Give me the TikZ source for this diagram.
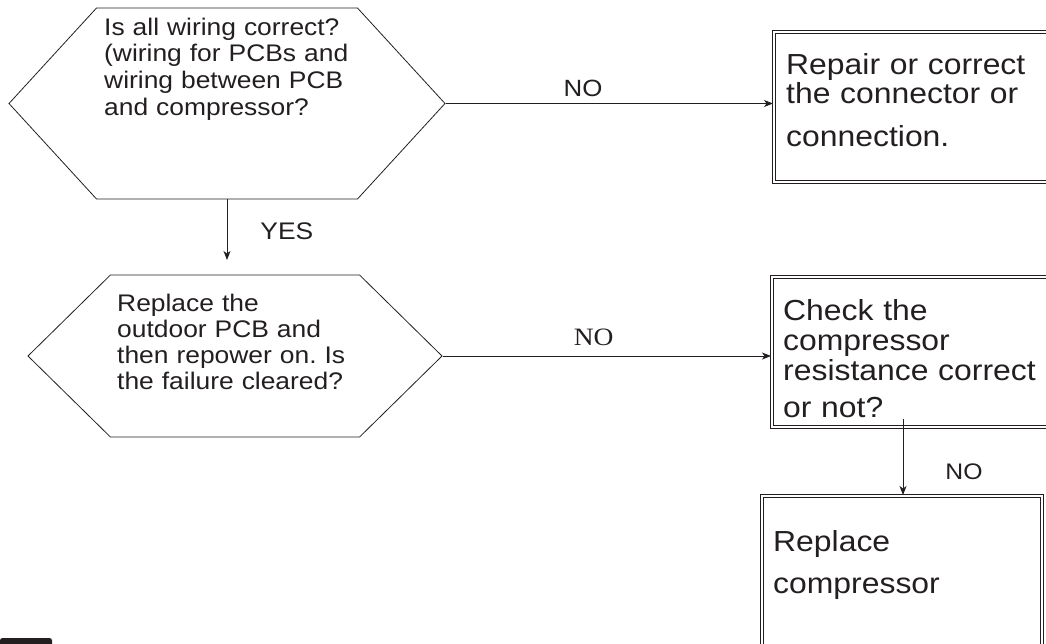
\documentclass[tikz,border=0pt]{standalone}
\usepackage{fontspec}
\setmainfont{Liberation Sans}[FakeStretch=1.1]
\newfontfamily\serifno{Liberation Serif}[FakeStretch=1.1]
\usepackage{tikz}
\usetikzlibrary{shapes.symbols, arrows.meta}
\definecolor{ink}{HTML}{231F20}
\frenchspacing

\begin{document}
\begin{tikzpicture}[
  x=1pt, y=-1pt,
  every node/.style={text=ink},
  hexq/.style={
    draw=ink, signal, signal to=west and east, inner sep=0pt,
    line width=0.8pt
  },
  qtext/.style={
    anchor=base west, inner sep=0pt, align=left, text width=320pt
  },
  outbox/.style={
    draw=ink, double, double distance=2pt, line width=1pt,
    anchor=north west, inner sep=0pt
  },
  outtext/.style={
    anchor=base west, inner sep=0pt, align=left, text width=260pt
  },
  arrow/.style={-{Stealth[length=9pt, width=7pt, inset=2.5pt]}, line width=0.9pt, draw=ink},
  arrowlabel/.style={inner sep=0pt},
]
\useasboundingbox (0,0) rectangle (1046,643);

\node[hexq, minimum width=436pt, minimum height=191pt, signal pointer angle=95] (q1) at (227,103.5) {};
\node[qtext, font=\fontsize{24}{26.7}\selectfont] (q1txt) at (104,35)
  {Is all wiring correct?\\(wiring for PCBs and\\wiring between PCB\\and compressor?};

\node[hexq, minimum width=414pt, minimum height=162pt, signal pointer angle=89] (q2) at (235,356) {};
\node[qtext, font=\fontsize{24}{26}\selectfont] (q2txt) at (117,311.7)
  {Replace the\\outdoor PCB and\\then repower on. Is\\the failure cleared?};

\node[outbox, minimum width=276pt, minimum height=150pt] (fix) at (773,31) {};
\node[outtext, font=\fontsize{29}{29.4}\selectfont] (fixtxt) at (786,74)
  {Repair or correct\\the connector or\\[14pt]connection.};

\node[outbox, minimum width=278pt, minimum height=150pt] (chk) at (771,276) {};
\node[outtext, font=\fontsize{29}{30}\selectfont] (chktxt) at (783,320)
  {Check the\\compressor\\resistance correct\\[7pt]or not?};

\node[outbox, minimum width=280pt, minimum height=152pt] (repl) at (761,495) {};
\node[outtext, font=\fontsize{29}{41.5}\selectfont] (repltxt) at (773,551.7)
  {Replace\\compressor};

\coordinate (yesend) at (227,260);
\coordinate (tap) at (903,419);

\draw[arrow] (q1.east) -- node[arrowlabel, above=6pt, pos=.42, font=\fontsize{23.5}{28}\selectfont] {NO} (q1.east -| fix.west);
\draw[arrow] (q1.south) -- node[arrowlabel, right=33pt, pos=.53, font=\fontsize{24}{28}\selectfont] {YES} (yesend);
\draw[arrow] (q2.east) -- node[arrowlabel, above=10pt, pos=.46, font=\serifno\fontsize{25}{28}\selectfont] {NO} (q2.east -| chk.west);
\draw[arrow] (tap) -- node[arrowlabel, right=42pt, pos=.69, font=\fontsize{22.5}{28}\selectfont] {NO} (tap |- repl.north);

\fill[ink, rounded corners=2.5pt] (0,638) rectangle (52,648);

\end{tikzpicture}
\end{document}
